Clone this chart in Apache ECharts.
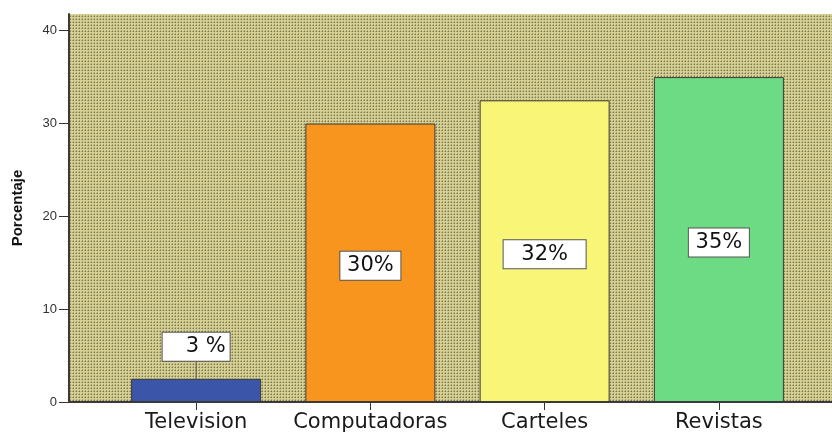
<!DOCTYPE html>
<html>
<head>
<meta charset="utf-8">
<script src="https://cdn.jsdelivr.net/npm/echarts@6/dist/echarts.min.js"></script>
<style>
html,body{margin:0;padding:0;background:#fff;}
#chart{width:832px;height:435px;}
</style>
</head>
<body>
<div id="chart"></div>
<script>
var categories = ['Television', 'Computadoras', 'Carteles', 'Revistas'];
var values = [2.5, 30, 32.5, 35];
var labels = ['3 %', '30%', '32%', '35%'];
var barColors = ['#3b55a8', '#f7951f', '#f9f577', '#6ddb84'];
var yTicks = [0, 10, 20, 30, 40];
var yTitle = 'Porcentaje';

// dotted khaki background pattern
var tile = document.createElement('canvas');
tile.width = 3; tile.height = 3;
var tc = tile.getContext('2d');
tc.fillStyle = '#d6cf92'; tc.fillRect(0, 0, 3, 3);
tc.fillStyle = '#a9a372'; tc.fillRect(0, 1, 1, 1); tc.fillRect(1, 0, 1, 1);
tc.fillStyle = '#7c7853'; tc.fillRect(1, 1, 1, 1);

var labelWidths = [40, 52, 74, 52];
var labelPads = [[3, 4, 3, 23], [3, 4], [3, 4], [3, 4]];
var chart = echarts.init(document.getElementById('chart'));
var data = values.map(function (v, i) {
  var item = {
    value: v,
    itemStyle: { color: barColors[i] },
    label: { formatter: labels[i], width: labelWidths[i], padding: labelPads[i] }
  };
  if (i === 0) {
    item.label.position = 'top';
    item.label.distance = 0;
    item.labelLine = { show: true, lineStyle: { color: '#555', width: 1 } };
  }
  return item;
});

chart.setOption({
  animation: false,
  grid: { left: 109, right: 26, top: 14, bottom: 33, containLabel: false },
  graphic: [
    { type: 'rect', z: -10, silent: true,
      shape: { x: 69, y: 14, width: 763, height: 388 },
      style: { fill: { image: tile, repeat: 'repeat' } } },
    { type: 'line', z: 100, silent: true,
      shape: { x1: 68, y1: 402, x2: 832, y2: 402 },
      style: { stroke: '#3a3a3a', lineWidth: 2 } }
  ],
  xAxis: {
    type: 'category',
    data: categories,
    axisLine: { show: false },
    axisTick: { show: true, alignWithLabel: true, length: 8, lineStyle: { color: '#333', width: 1 } },
    axisLabel: { interval: 0, margin: 10, fontFamily: 'DejaVu Sans', fontSize: 21, color: '#1a1a1a' }
  },
  yAxis: {
    type: 'value',
    min: 0, max: 41.8, interval: 10,
    offset: 40,
    name: yTitle,
    nameLocation: 'middle',
    nameGap: 44,
    nameTextStyle: { fontFamily: 'Liberation Sans', fontWeight: 'bold', fontSize: 15, color: '#111' },
    splitLine: { show: false },
    axisLine: { show: true, lineStyle: { color: '#3a3a3a', width: 2 } },
    axisTick: { show: true, length: 10, customValues: yTicks, lineStyle: { color: '#333' } },
    axisLabel: { customValues: yTicks, margin: 12, fontFamily: 'Liberation Sans', fontSize: 13, color: '#333' }
  },
  series: [{
    type: 'bar',
    data: data,
    barWidth: 130,
    itemStyle: { borderColor: '#3a3a3a', borderWidth: 1 },
    label: {
      show: true,
      position: 'inside',
      fontFamily: 'DejaVu Sans',
      fontSize: 21,
      color: '#111',
      backgroundColor: '#fff',
      borderColor: '#555',
      borderWidth: 1,
      height: 22,
      lineHeight: 22,
      align: 'center'
    },
    labelLine: { show: false },
    labelLayout: function (params) {
      if (params.dataIndex === 0) { return { dy: -18 }; }
      return { dy: 3 };
    }
  }]
});
</script>
</body>
</html>
